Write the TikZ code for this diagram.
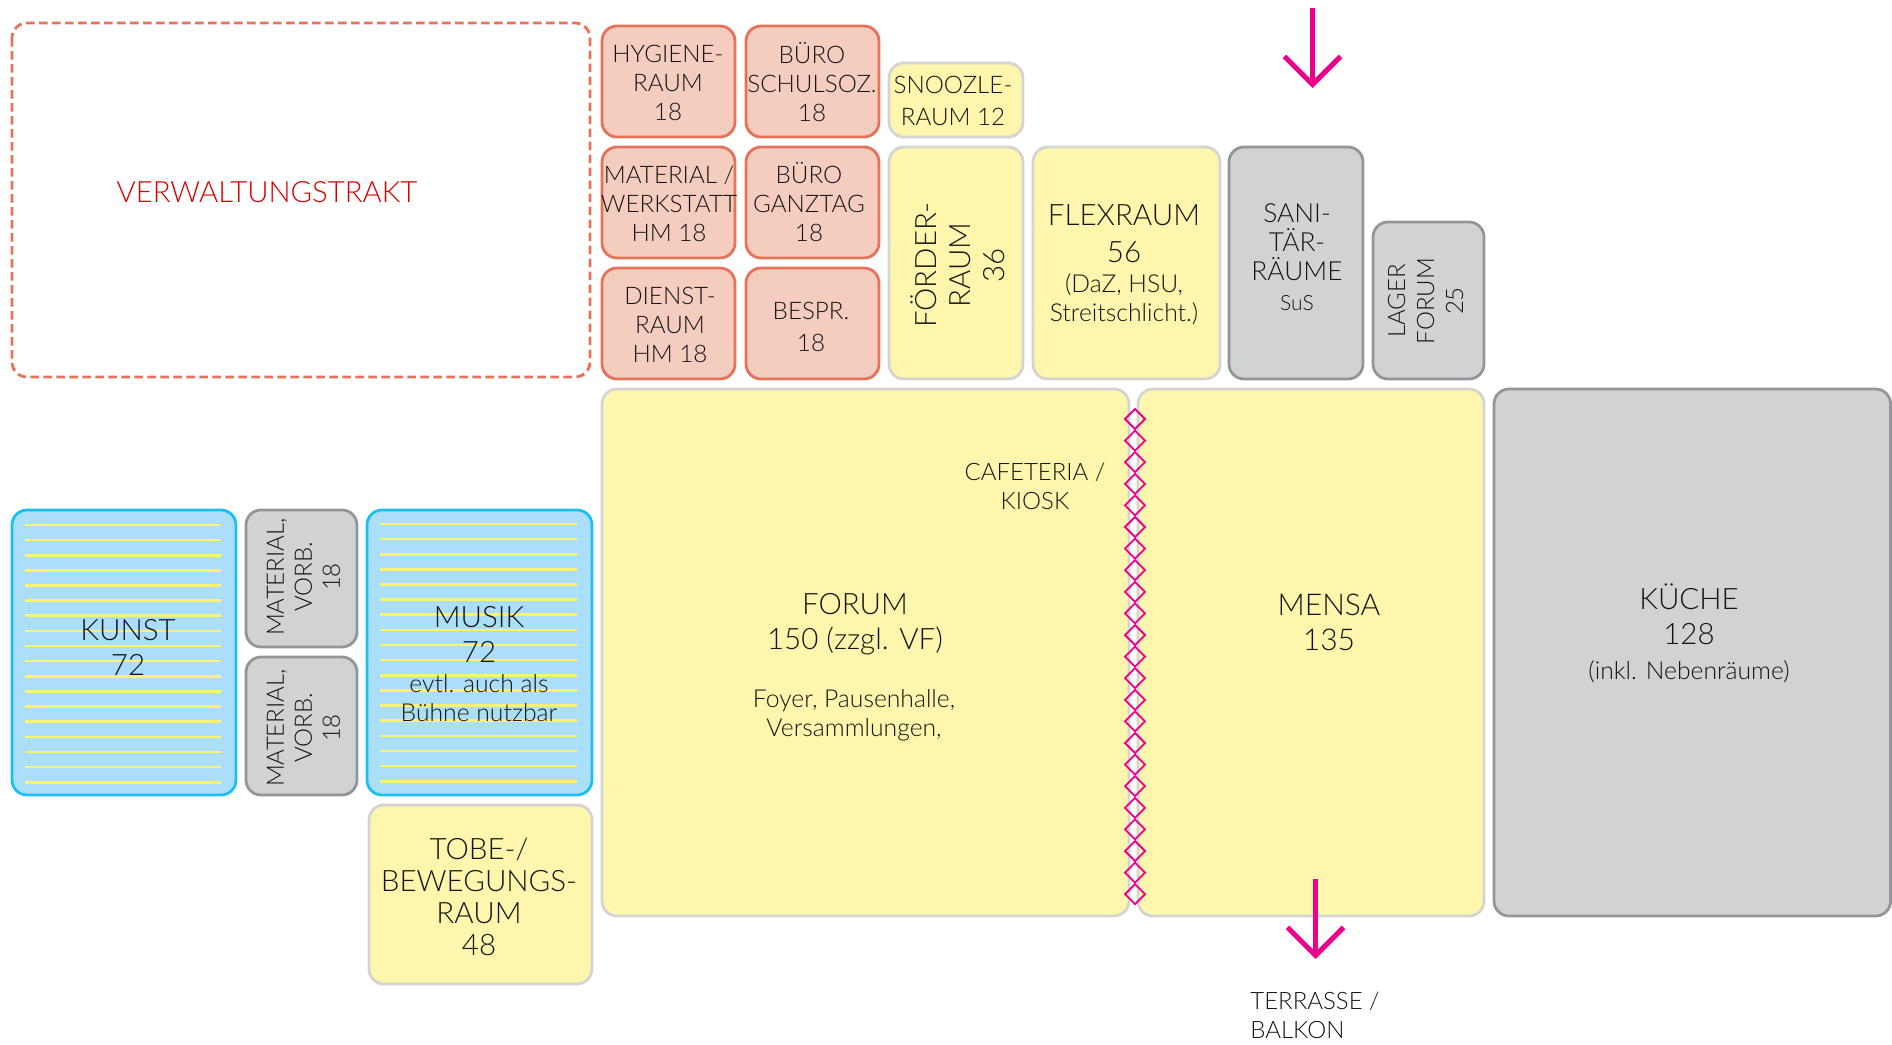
\documentclass[tikz,border=0pt]{standalone}
\usepackage{fontspec}
\usepackage{xcolor}
\setmainfont{Lato Light}
\usetikzlibrary{arrows.meta}
\definecolor{redfill}{HTML}{F4CDBF}
\definecolor{redline}{HTML}{E4735A}
\definecolor{yellowfill}{HTML}{FFF6AD}
\definecolor{yellowline}{HTML}{D4D4D2}
\definecolor{grayfill}{HTML}{D1D2D4}
\definecolor{grayline}{HTML}{939598}
\definecolor{bluefill}{HTML}{ABDFF9}
\definecolor{blueline}{HTML}{1CC0F0}
\definecolor{stripe}{HTML}{FFF26E}
\definecolor{pinkline}{HTML}{EC008C}
\definecolor{inktext}{HTML}{151413}
\tikzset{
    redroom/.style={draw=redline, fill=redfill, line width=2.8pt, rounded corners=15pt},
    yellowroom/.style={draw=yellowline, fill=yellowfill, line width=2.8pt, rounded corners=15pt},
    grayroom/.style={draw=grayline, fill=grayfill, line width=2.8pt, rounded corners=15pt},
    blueroom/.style={draw=blueline, fill=bluefill, line width=2.8pt, rounded corners=15pt},
    roomtext/.style={text=inktext, align=center, inner sep=0pt, font=\fontsize{24.2}{29}\selectfont},
    bigtext/.style={roomtext, font=\fontsize{29.5}{35}\selectfont},
    subtext/.style={roomtext, font=\fontsize{24.7}{29}\selectfont},
    exitarrow/.style={draw=pinkline, line width=5pt, -{Straight Barb[length=28pt, width=56pt]}}
}
\begin{document}
\begin{tikzpicture}[x=1pt, y=-1pt]
    \useasboundingbox (0,0) rectangle (1892,1044);

    % administration wing
    \draw[redline, line width=2.8pt, dash pattern=on 8.5pt off 4.5pt, rounded corners=15pt] (12,23) rectangle (590,377);
    \node[roomtext, text=red!85!black, font=\fontsize{29.3}{34}\selectfont] (verwaltung) at (267,192) {VERWALTUNGSTRAKT};

    % small offices
    \draw[redroom] (602,26) rectangle (735,137);
    \node[roomtext] (hygiene) at (668,83) {HYGIENE-\\RAUM\\18};
    \draw[redroom] (746,26) rectangle (879,137);
    \node[roomtext] (schulsoz) at (812,82) {BÜRO\\SCHULSOZ.\\18};
    \draw[redroom] (602,147) rectangle (735,258);
    \node[roomtext] (werkstatt) at (669,204) {MATERIAL /\\WERKSTATT\\HM 18};
    \draw[redroom] (746,147) rectangle (879,258);
    \node[roomtext] (ganztag) at (809,202.5) {BÜRO\\GANZTAG\\18};
    \draw[redroom] (602,268) rectangle (735,379);
    \node[roomtext] (dienst) at (670,324.5) {DIENST-\\RAUM\\HM 18};
    \draw[redroom] (746,268) rectangle (879,379);
    \node[roomtext] (bespr) at (811,327) {BESPR.\\[3pt]18};

    % yellow rooms, upper row
    \draw[yellowroom] (889,63) rectangle (1023,137);
    \node[roomtext, font=\fontsize{24.2}{32}\selectfont] (snoozle) at (953,101) {SNOOZLE-\\RAUM 12};
    \draw[yellowroom] (889,147) rectangle (1023,379);
    \node[roomtext, rotate=90, font=\fontsize{29.4}{34}\selectfont] (foerder) at (958,265) {FÖRDER-\\RAUM\\36};
    \draw[yellowroom] (1033,147) rectangle (1220,379);
    \node[bigtext, font=\fontsize{29.5}{37}\selectfont] (flexraum) at (1124,233.4) {FLEXRAUM\\56};
    \node[subtext] (flexsub) at (1124,299) {(DaZ, HSU,\\Streitschlicht.)};

    % gray rooms, upper row
    \draw[grayroom] (1229,147) rectangle (1363,379);
    \node[roomtext, font=\fontsize{26.3}{29}\selectfont] (sani) at (1297,242) {SANI-\\TÄR-\\RÄUME};
    \node[subtext, font=\fontsize{21}{25}\selectfont] (sus) at (1297,303) {SuS};
    \draw[grayroom] (1373,222) rectangle (1484,379);
    \node[roomtext, rotate=90, font=\fontsize{24}{29}\selectfont] (lager) at (1425.5,301) {LAGER\\FORUM\\25};

    % forum, mensa, kitchen
    \draw[yellowroom] (602,389) rectangle (1129,916);
    \node[bigtext] (forum) at (855,624.4) {FORUM\\150 (zzgl. VF)};
    \node[subtext] (foyer) at (854,715) {Foyer, Pausenhalle,\\Versammlungen,};
    \node[subtext, font=\fontsize{24}{29}\selectfont] (cafeteria) at (1035,486) {CAFETERIA /\\KIOSK};
    \draw[yellowroom] (1138,389) rectangle (1484,916);
    \node[bigtext, font=\fontsize{30}{35}\selectfont] (mensa) at (1329,622) {MENSA\\135};
    \draw[grayroom] (1494,389) rectangle (1890.6,916);
    \node[bigtext] (kueche) at (1689,614.6) {KÜCHE\\128};
    \node[subtext] (inkl) at (1689,672) {(inkl. Nebenräume)};

    % folding wall
    \foreach \n in {0,...,22}
        \draw[pinkline, line width=1.8pt] (1135,419+\n*21.6-10) -- (1145,419+\n*21.6) -- (1135,419+\n*21.6+10) -- (1125,419+\n*21.6) -- cycle;

    % left wing
    \draw[blueroom] (12,510) rectangle (236,795);
    \foreach \n in {0,...,17}
        \draw[stripe, line width=2.6pt] (25,525+\n*15.13) -- (221,525+\n*15.13);
    \node[bigtext] (kunst) at (128,647) {KUNST\\72};
    \draw[grayroom] (246,510) rectangle (357,647);
    \node[roomtext, rotate=90, font=\fontsize{24}{28}\selectfont] (material1) at (303.4,577) {MATERIAL,\\VORB.\\18};
    \draw[grayroom] (246,657) rectangle (357,795);
    \node[roomtext, rotate=90, font=\fontsize{24}{28}\selectfont] (material2) at (303.4,728) {MATERIAL,\\VORB.\\18};
    \draw[blueroom] (367,510) rectangle (592,795);
    \foreach \n in {0,...,17}
        \draw[stripe, line width=2.6pt] (380,524+\n*15.13) -- (577,524+\n*15.13);
    \node[bigtext] (musik) at (479,634) {MUSIK\\72};
    \node[subtext] (buehne) at (479,698) {evtl. auch als\\Bühne nutzbar};
    \draw[yellowroom] (369,805) rectangle (592,984);
    \node[bigtext, font=\fontsize{29.5}{32}\selectfont] (tobe) at (479,897) {TOBE-/\\BEWEGUNGS-\\RAUM\\48};

    % entrances
    \coordinate (eingangtop) at (1312.5,8);
    \coordinate (eingangend) at (1312.5,88);
    \draw[exitarrow] (eingangtop) -- (eingangend);
    \coordinate (terrassetop) at (1315.5,879);
    \coordinate (terrasseend) at (1315.5,959);
    \draw[exitarrow] (terrassetop) -- (terrasseend);
    \node[subtext, align=left, font=\fontsize{24}{29}\selectfont] (terrasse) at (1315,1015) {TERRASSE /\\BALKON};
\end{tikzpicture}
\end{document}
